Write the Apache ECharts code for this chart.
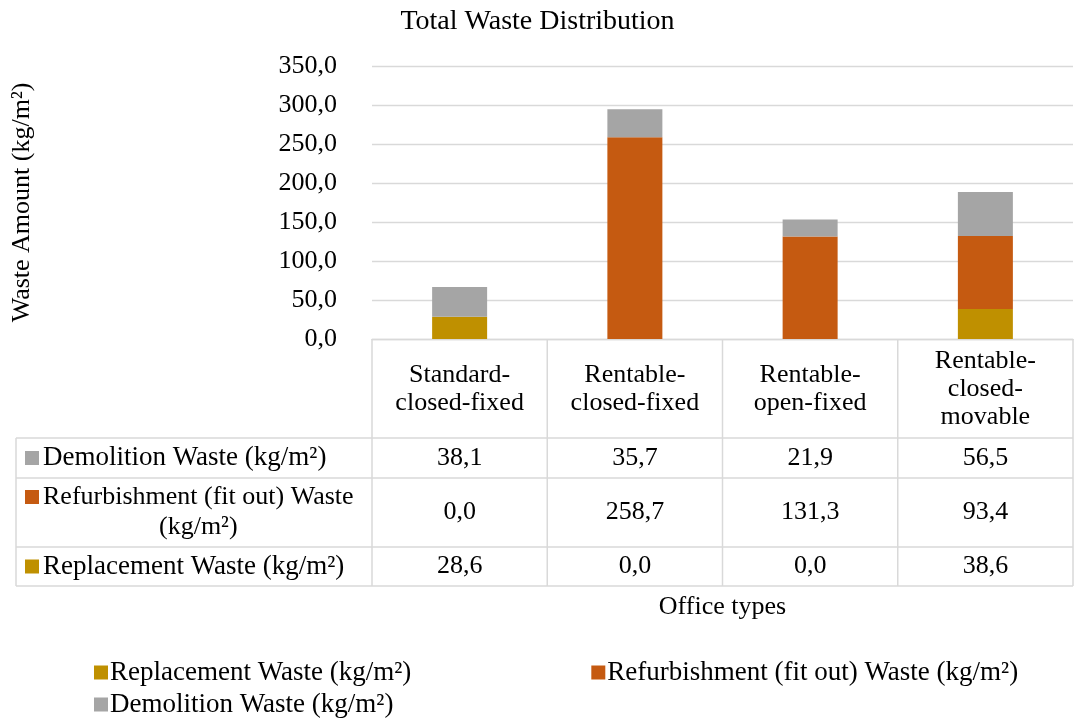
<!DOCTYPE html>
<html>
<head>
<meta charset="utf-8">
<script src="https://cdn.jsdelivr.net/npm/echarts@6/dist/echarts.min.js"></script>
<style>
  html, body { margin: 0; padding: 0; background: #ffffff; }
  #chart { width: 1075px; height: 718px; }
</style>
</head>
<body>
<div id="chart"></div>
<script>
// Office types (header row of the data table)
const categories = ['Standard-\nclosed-fixed', 'Rentable-\nclosed-fixed', 'Rentable-\nopen-fixed', 'Rentable-\nclosed-\nmovable'];
// Waste amounts per office type, kg/m²
const replacementWaste = [28.6, 0.0, 0.0, 38.6];
const refurbishmentWaste = [0.0, 258.7, 131.3, 93.4];
const demolitionWaste = [38.1, 35.7, 21.9, 56.5];
// Series names
const seriesNames = ['Replacement Waste (kg/m²)', 'Refurbishment (fit out) Waste (kg/m²)', 'Demolition Waste (kg/m²)'];
// Value axis ticks
const yMin = 0, yMax = 350, yStep = 50;

const FONT = '"Liberation Serif", "Times New Roman", serif';
const COLORS = ['#BF9000', '#C55A11', '#A5A5A5'];
const LINE = '#D9D9D9';
const FS = 26;

const fmt = v => v.toFixed(1).replace('.', ',');

// table rows, top to bottom: label text, values, series index, label center offset below the axis
const tableRows = [
  { label: 'Demolition Waste (kg/m²)', values: demolitionWaste, s: 2, mid: 119, fs: 27 },
  { label: 'Refurbishment (fit out) Waste\n(kg/m²)', values: refurbishmentWaste, s: 1, mid: 173, fs: 26 },
  { label: 'Replacement Waste (kg/m²)', values: replacementWaste, s: 0, mid: 227, fs: 27 }
];

const chart = echarts.init(document.getElementById('chart'), null, { renderer: 'canvas' });

const valueAxes = tableRows.map(row => ({
  type: 'category',
  gridIndex: 0,
  position: 'bottom',
  data: categories,
  axisLine: { show: false },
  axisTick: { show: false },
  splitLine: { show: false },
  axisLabel: {
    interval: 0,
    margin: row.mid,
    verticalAlign: 'middle',
    fontFamily: FONT,
    fontSize: FS,
    color: '#000',
    formatter: (v, i) => fmt(row.values[i])
  }
}));

const legendText = { fontFamily: FONT, fontSize: 27, color: '#000', padding: [0, 0, 0, -3] };

chart.setOption({
  animation: false,
  color: COLORS,
  title: {
    text: 'Total Waste Distribution',
    left: 'center',
    top: 3,
    textStyle: { fontFamily: FONT, fontSize: 28, fontWeight: 'normal', color: '#000' }
  },
  grid: { left: 372, right: 2, top: 66, bottom: 379, containLabel: false },
  legend: [
    {
      data: [seriesNames[0], seriesNames[1]],
      left: 89, top: 654,
      itemWidth: 14, itemHeight: 14, itemGap: 180,
      icon: 'rect',
      textStyle: legendText
    },
    {
      data: [seriesNames[2]],
      left: 89, top: 686,
      itemWidth: 14, itemHeight: 14,
      icon: 'rect',
      textStyle: legendText
    }
  ],
  xAxis: [{
    type: 'category',
    data: categories,
    name: 'Office types',
    nameLocation: 'middle',
    nameGap: 255,
    nameTextStyle: { fontFamily: FONT, fontSize: FS, color: '#000' },
    axisLine: { show: true, lineStyle: { color: LINE, width: 1.3 } },
    axisTick: { show: false },
    axisLabel: {
      interval: 0,
      margin: 50,
      verticalAlign: 'middle',
      lineHeight: 28,
      fontFamily: FONT,
      fontSize: FS,
      color: '#000'
    }
  }].concat(valueAxes),
  yAxis: {
    type: 'value',
    min: yMin, max: yMax, interval: yStep,
    name: 'Waste Amount (kg/m²)',
    nameLocation: 'middle',
    nameGap: 337,
    nameTextStyle: { fontFamily: FONT, fontSize: FS, color: '#000' },
    axisLine: { show: false },
    axisTick: { show: false },
    splitLine: { lineStyle: { color: LINE, width: 1.3 } },
    axisLabel: { margin: 35, fontFamily: FONT, fontSize: FS, color: '#000', formatter: v => fmt(v) }
  },
  series: [
    { name: seriesNames[0], type: 'bar', stack: 'total', barWidth: 55, data: replacementWaste },
    { name: seriesNames[1], type: 'bar', stack: 'total', barWidth: 55, data: refurbishmentWaste },
    { name: seriesNames[2], type: 'bar', stack: 'total', barWidth: 55, data: demolitionWaste }
  ]
});

// Data table grid lines and row headers, placed from the category axis
const centers = categories.map((_, i) => chart.convertToPixel({ xAxisIndex: 0 }, i));
const half = (centers[1] - centers[0]) / 2;
const edges = [centers[0] - half].concat(centers.map(c => c + half));
const axisY = chart.convertToPixel({ yAxisIndex: 0 }, 0);
const tableLeft = 16;
const labelLeft = 43;
const rowBottoms = [438, 478, 547, 586];

const measureCtx = document.createElement('canvas').getContext('2d');

const graphics = [];
const line = (x1, y1, x2, y2) => ({
  type: 'line', silent: true,
  shape: { x1, y1, x2, y2 },
  style: { stroke: LINE, lineWidth: 1.5 }
});
edges.forEach(x => graphics.push(line(x, axisY, x, rowBottoms[3])));
graphics.push(line(tableLeft, rowBottoms[0], tableLeft, rowBottoms[3]));
rowBottoms.forEach(y => graphics.push(line(tableLeft, y, edges[edges.length - 1], y)));

tableRows.forEach((row, r) => {
  const top = rowBottoms[r];
  const bottom = rowBottoms[r + 1];
  const lines = row.label.split('\n');
  const multi = lines.length > 1;
  const firstLineY = multi ? top + 19 : (top + bottom) / 2;
  // multi-line labels are centred on their first line, which starts at labelLeft
  measureCtx.font = row.fs + 'px ' + FONT;
  const firstWidth = measureCtx.measureText(lines[0]).width;
  graphics.push({
    type: 'rect', silent: true,
    shape: { x: 25, y: firstLineY - 7, width: 14, height: 14 },
    style: { fill: COLORS[row.s] }
  });
  graphics.push({
    type: 'text', silent: true,
    x: multi ? labelLeft + firstWidth / 2 : labelLeft,
    y: (top + bottom) / 2,
    style: {
      text: row.label,
      fontFamily: FONT, fontSize: row.fs, fill: '#000',
      align: multi ? 'center' : 'left',
      verticalAlign: 'middle',
      lineHeight: 30
    }
  });
});

chart.setOption({ graphic: graphics });
</script>
</body>
</html>
